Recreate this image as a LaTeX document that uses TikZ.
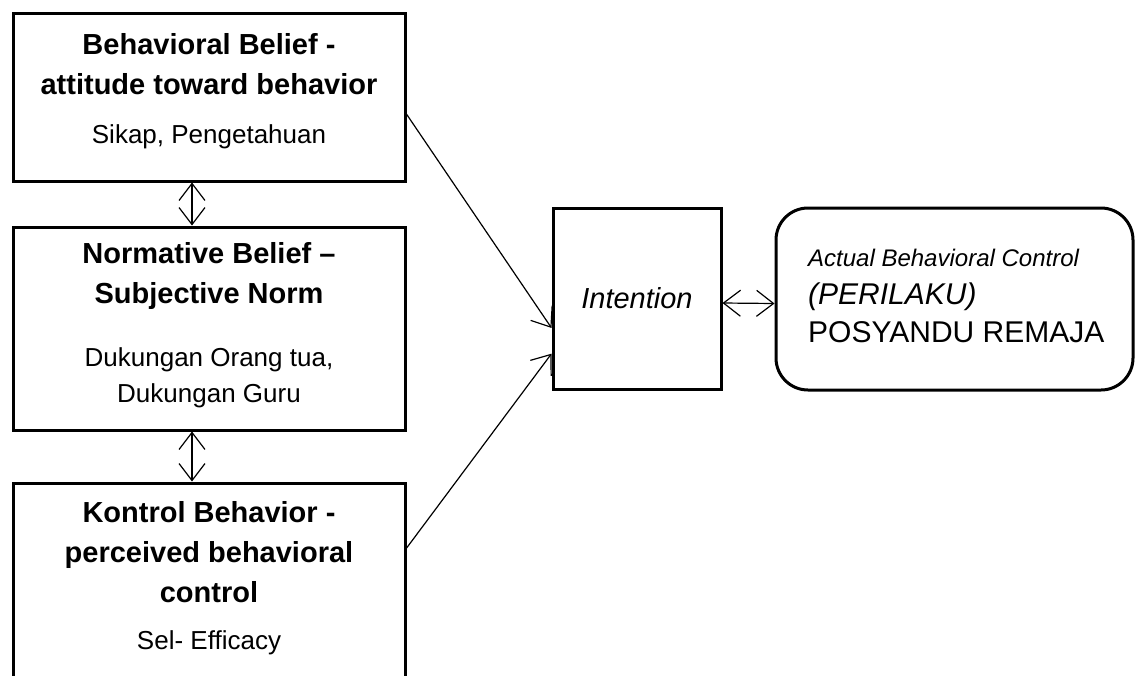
\documentclass[tikz,border=0pt]{standalone}
\usepackage{fontspec}
\setmainfont{Liberation Sans}
\usepackage{tikz}
\usetikzlibrary{arrows.meta, calc}

\begin{document}
\begin{tikzpicture}[x=1pt, y=-1pt,
    box/.style={draw, line width=3pt, minimum width=392pt, inner sep=0pt},
    head/.style={font=\bfseries\fontsize{29}{40}\selectfont, align=center, inner sep=0pt},
    body/.style={font=\fontsize{26}{36}\selectfont, align=center, inner sep=0pt},
    side/.style={anchor=west, inner sep=0pt},
    link/.style={line width=1.2pt, >={Straight Barb[length=17pt,width=26pt]}}]
\useasboundingbox (0,0) rectangle (1141,675);
\clip (0,0) rectangle (1141,675);

% Belief boxes on the left
\node[box, minimum height=168pt] (bb) at (209,97) {};
\node[head] (bbhead) at (209,64) {Behavioral Belief -\\attitude toward behavior};
\node[body] (bbbody) at (209,137) {Sikap, Pengetahuan};

\node[box, minimum height=203pt] (sn) at (209,328.5) {};
\node[head] (snhead) at (209,276) {Normative Belief --\\Subjective Norm};
\node[body] (snbody) at (209,378) {Dukungan Orang tua,\\Dukungan Guru};

\node[box, minimum height=212pt] (kb) at (209,589) {};
\node[head] (kbhead) at (209,552) {Kontrol Behavior -\\perceived behavioral\\control};
\node[body] (kbbody) at (209,643) {Sel- Efficacy};

% Intention and behavior
\node[box, minimum width=168pt, minimum height=181pt,
      font=\itshape\fontsize{29}{35}\selectfont] (int) at (637,298.5) {Intention};
\node[box, rounded corners=32pt, minimum width=357pt, minimum height=182pt] (act) at (954.5,299) {};
\node[side, font=\itshape\fontsize{24}{28}\selectfont] (acttop) at (808,258) {Actual Behavioral Control};
\node[side, font=\itshape\fontsize{30}{35}\selectfont] (actmid) at (808,297) {(PERILAKU)};
\node[side, font=\fontsize{30}{35}\selectfont] (actbot) at (808,332) {POSYANDU REMAJA};

% Connectors
\draw[link, ->] ($(bb.north east)!0.6!(bb.south east)$) -- ($(int.north west)!0.66!(int.south west)$);
\draw[link, ->] ($(kb.north east)!0.31!(kb.south east)$) -- ($(int.north west)!0.8!(int.south west)$);
\draw[link, <->] ([xshift=-17pt]bb.south) -- ([xshift=-17pt]sn.north);
\draw[link, <->] ([xshift=-17pt]sn.south) -- ([xshift=-17pt]kb.north);
\draw[link, <->] ([yshift=-4.5pt]int.east) -- ([yshift=-4.5pt]act.west);

\end{tikzpicture}
\end{document}
